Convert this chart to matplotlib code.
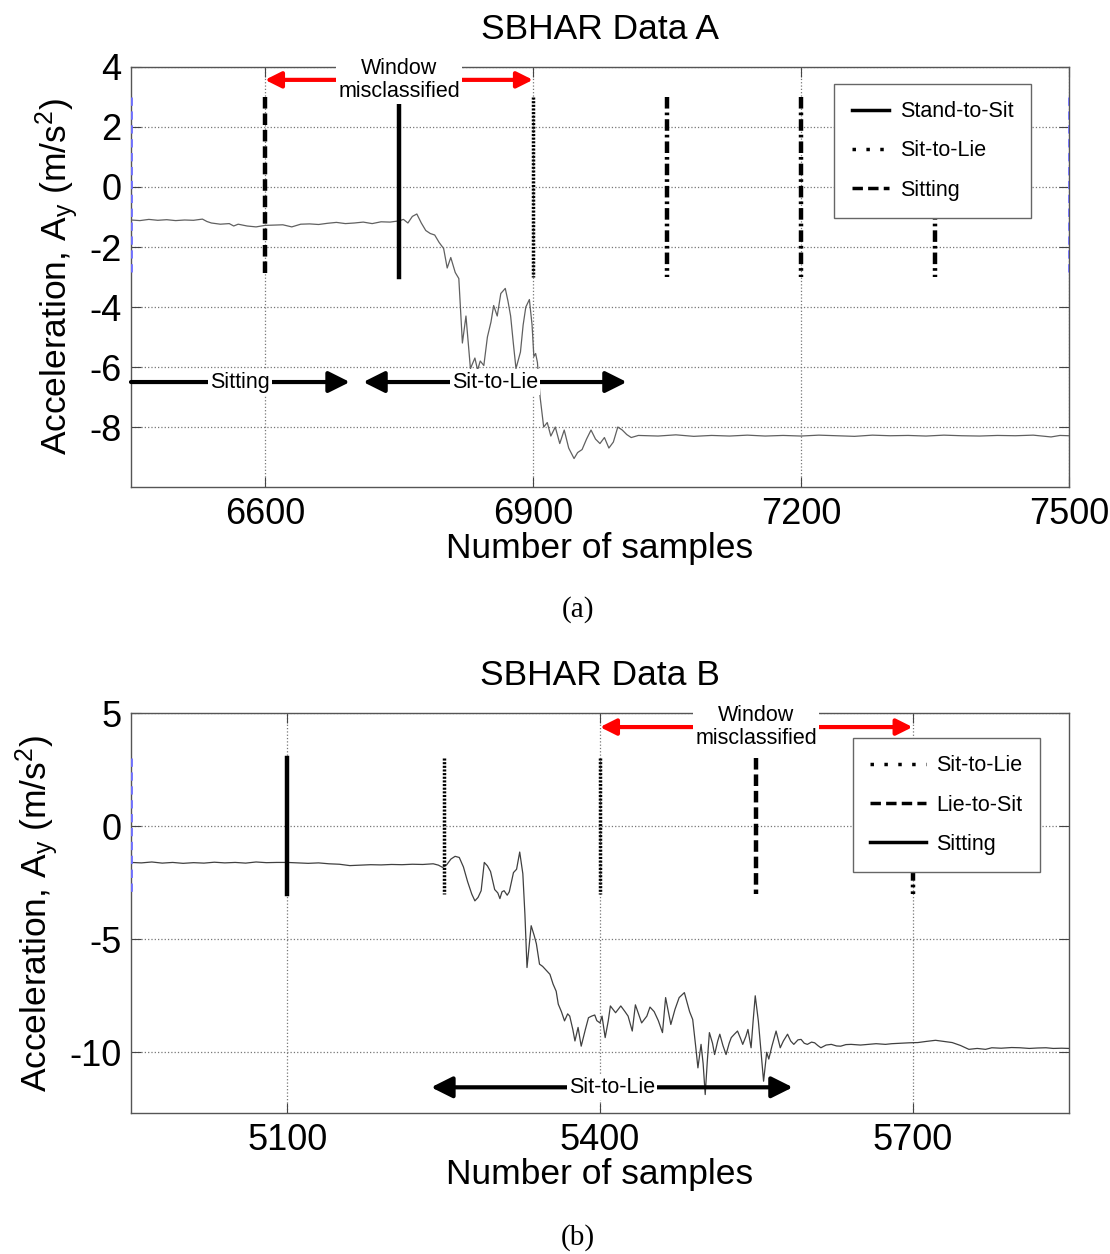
import numpy as np
import matplotlib.pyplot as plt
from matplotlib.lines import Line2D

plt.rcParams['font.family'] = ['Liberation Sans', 'DejaVu Sans']
plt.rcParams['mathtext.fontset'] = 'custom'
plt.rcParams['mathtext.rm'] = 'Liberation Sans'
plt.rcParams['mathtext.it'] = 'Liberation Sans'
plt.rcParams['axes.unicode_minus'] = False

# ---- data A ----
a_x = [6450, 6460, 6470, 6480, 6490, 6500, 6510, 6520, 6530, 6535, 6540, 6550, 6560, 6565,
       6570, 6580, 6590, 6600, 6610, 6620, 6630, 6640, 6650, 6660, 6670, 6680, 6690, 6700,
       6710, 6720, 6730, 6740, 6750, 6755, 6760, 6765, 6770, 6775, 6780, 6785, 6790, 6795,
       6800, 6804, 6808, 6813, 6817, 6821, 6825, 6830, 6835, 6838, 6841, 6845, 6849, 6853,
       6856, 6860, 6864, 6869, 6872, 6875, 6878, 6881, 6886, 6889, 6892, 6896, 6899, 6901,
       6903, 6905, 6908, 6912, 6916, 6920, 6925, 6930, 6935, 6940, 6946, 6950, 6955, 6960,
       6965, 6970, 6975, 6980, 6985, 6990, 6995, 7000, 7005, 7010, 7018, 7040, 7060, 7080,
       7100, 7120, 7140, 7160, 7180, 7200, 7220, 7240, 7260, 7280, 7300, 7320, 7340, 7360,
       7380, 7400, 7420, 7440, 7460, 7480, 7490, 7500]
a_y = [-1.10, -1.12, -1.08, -1.11, -1.09, -1.12, -1.10, -1.11, -1.07, -1.15, -1.20, -1.24,
       -1.22, -1.30, -1.24, -1.30, -1.33, -1.28, -1.27, -1.26, -1.33, -1.24, -1.23, -1.25,
       -1.21, -1.18, -1.22, -1.20, -1.17, -1.22, -1.16, -1.17, -1.13, -1.08, -1.20, -0.98,
       -0.90, -1.20, -1.45, -1.55, -1.60, -1.85, -2.05, -2.70, -2.35, -2.85, -3.05, -5.20,
       -4.30, -6.05, -5.70, -6.10, -5.80, -5.95, -5.00, -4.50, -3.95, -4.30, -3.55, -3.38,
       -3.80, -4.30, -5.20, -6.05, -5.50, -4.60, -4.00, -3.75, -4.60, -5.65, -5.55, -5.85,
       -7.00, -8.00, -7.85, -8.30, -8.00, -8.55, -8.10, -8.70, -9.05, -8.85, -8.75, -8.40,
       -8.10, -8.40, -8.55, -8.35, -8.70, -8.50, -8.00, -8.10, -8.25, -8.35, -8.28, -8.30,
       -8.26, -8.31, -8.28, -8.30, -8.27, -8.30, -8.28, -8.30, -8.27, -8.29, -8.31, -8.27,
       -8.29, -8.28, -8.30, -8.27, -8.29, -8.30, -8.28, -8.29, -8.27, -8.33, -8.28, -8.29]

# ---- data B ----
b_x = [4950, 4960, 4970, 4980, 4990, 5000, 5010, 5020, 5030, 5040, 5050, 5060, 5070, 5080,
       5090, 5100, 5110, 5120, 5130, 5140, 5150, 5160, 5170, 5180, 5190, 5200, 5210, 5220,
       5230, 5240, 5245, 5249, 5253, 5257, 5261, 5265, 5269, 5273, 5277, 5280, 5283, 5286,
       5289, 5292, 5295, 5299, 5302, 5304, 5306, 5308, 5311, 5313, 5317, 5320, 5323, 5326,
       5328, 5330, 5332, 5334, 5337, 5339, 5342, 5345, 5349, 5352, 5355, 5358, 5360, 5363,
       5366, 5369, 5371, 5374, 5376, 5379, 5382, 5386, 5389, 5392, 5395, 5397, 5400, 5402,
       5405, 5408, 5410, 5415, 5420, 5424, 5427, 5431, 5434, 5437, 5440, 5445, 5448, 5452,
       5456, 5460, 5463, 5468, 5472, 5476, 5481, 5486, 5489, 5492, 5494, 5497, 5499, 5501,
       5503, 5505, 5508, 5510, 5513, 5515, 5518, 5521, 5524, 5526, 5529, 5532, 5535, 5537,
       5540, 5542, 5545, 5547, 5549, 5552, 5555, 5557, 5560, 5562, 5565, 5569, 5573, 5576,
       5580, 5583, 5586, 5590, 5593, 5596, 5599, 5603, 5606, 5609, 5612, 5617, 5622, 5627,
       5631, 5636, 5641, 5650, 5657, 5665, 5674, 5680, 5688, 5697, 5705, 5713, 5722, 5730,
       5738, 5746, 5754, 5762, 5770, 5776, 5785, 5795, 5803, 5812, 5820, 5828, 5835, 5843,
       5850]
b_y = [-1.60, -1.62, -1.58, -1.63, -1.60, -1.64, -1.61, -1.63, -1.59, -1.62, -1.60, -1.63,
       -1.58, -1.61, -1.60, -1.60, -1.62, -1.64, -1.62, -1.66, -1.68, -1.74, -1.72, -1.70,
       -1.71, -1.69, -1.70, -1.68, -1.69, -1.66, -1.72, -1.82, -1.70, -1.45, -1.33, -1.38,
       -1.80, -2.45, -3.00, -3.30, -3.15, -2.85, -1.60, -1.75, -2.00, -2.80, -2.95, -3.20,
       -2.90, -2.85, -3.05, -2.90, -2.05, -1.90, -1.14, -2.10, -3.90, -6.25, -5.30, -4.40,
       -4.85, -5.20, -6.10, -6.20, -6.40, -6.55, -6.98, -7.30, -7.87, -8.20, -8.61, -8.30,
       -8.40, -9.00, -9.50, -8.90, -9.73, -8.99, -8.47, -8.40, -8.35, -8.60, -8.70, -8.40,
       -9.35, -8.60, -7.95, -8.25, -7.95, -8.20, -8.40, -9.06, -7.90, -8.30, -8.70, -8.40,
       -8.00, -8.20, -8.60, -9.13, -7.58, -8.77, -8.10, -7.58, -7.36, -8.20, -8.55, -9.80,
       -10.69, -9.65, -10.50, -11.87, -10.40, -9.13, -9.60, -10.10, -9.50, -9.20, -9.70,
       -10.10, -9.60, -9.35, -9.20, -9.06, -9.40, -9.65, -9.30, -8.99, -9.80, -8.60, -7.50,
       -8.62, -10.25, -11.28, -10.00, -10.30, -9.73, -9.06, -9.80, -9.50, -9.20, -9.50,
       -9.65, -9.45, -9.43, -9.60, -9.65, -9.55, -9.58, -9.70, -9.80, -9.68, -9.65, -9.72,
       -9.73, -9.66, -9.65, -9.68, -9.65, -9.62, -9.65, -9.62, -9.60, -9.58, -9.57, -9.52,
       -9.47, -9.52, -9.57, -9.70, -9.87, -9.83, -9.87, -9.80, -9.82, -9.79, -9.80, -9.83,
       -9.81, -9.80, -9.83, -9.82, -9.83]

a_xticks = [6600, 6900, 7200, 7500]
a_yticks = [4, 2, 0, -2, -4, -6, -8]
b_xticks = [5100, 5400, 5700]
b_yticks = [5, 0, -5, -10]

a_legend = ['Stand-to-Sit', 'Sit-to-Lie', 'Sitting']
b_legend = ['Sit-to-Lie', 'Lie-to-Sit', 'Sitting']

DOT = (0, (0.6, 0.45))
DASH = (0, (2.6, 1.1))
DASHDOT = (0, (2.6, 0.9, 0.6, 0.9))
BLUE = (0, (3, 2))

fig = plt.figure(figsize=(11.1, 12.54), dpi=100)
ax1 = fig.add_axes([0.118, 0.6116, 0.845, 0.335])
ax2 = fig.add_axes([0.118, 0.1122, 0.845, 0.319])


def style_axes(ax, xticks, yticks, title):
    ax.set_xticks(xticks)
    ax.set_yticks(yticks)
    ax.grid(True, linestyle=':', color='#777777', lw=0.9)
    ax.set_axisbelow(True)
    ax.tick_params(direction='in', length=7, top=True, right=True, labelsize=26,
                   pad=7, color='#444444')
    for s in ax.spines.values():
        s.set_color('#555555')
        s.set_linewidth(1.0)
    ax.set_title(title, fontsize=25.5, pad=20)
    ax.set_xlabel('Number of samples', fontsize=25.5, labelpad=0)
    ax.set_ylabel(r'Acceleration, A$_\mathregular{y}$ (m/s$^\mathregular{2}$)',
                  fontsize=25.5, labelpad=6)


def span_arrow(ax, x0, x1, y, label, color, both=True, fs=15.5, ms=24):
    ax.annotate('', xy=(x1, y), xytext=(x0, y),
                arrowprops=dict(arrowstyle='<|-|>' if both else '-|>', color=color,
                                lw=3, mutation_scale=ms, shrinkA=0, shrinkB=0),
                zorder=4, annotation_clip=False)
    ax.text((x0 + x1) / 2, y, label, ha='center', va='center', fontsize=fs,
            bbox=dict(facecolor='white', edgecolor='none', pad=1.5), zorder=6,
            clip_on=False, linespacing=1.15)


def make_legend(ax, handles, labels, anchor, hlen=1.75):
    leg = ax.legend(handles, labels, loc='upper right', bbox_to_anchor=anchor,
                    borderaxespad=0, fontsize=15.5, fancybox=False, framealpha=1,
                    edgecolor='#666666', handlelength=hlen, labelspacing=0.85,
                    borderpad=0.8, handletextpad=0.5)
    leg.get_frame().set_linewidth(1.0)
    leg.set_zorder(7)


# ---- plot A ----
ax1.plot(a_x, a_y, color='#606060', lw=0.9, zorder=3)
ax1.plot([6450, 6450], [3, -3], color='#6f6fff', lw=2, ls=BLUE, zorder=3)
ax1.plot([7500, 7500], [3, -3], color='#6f6fff', lw=2, ls=BLUE, zorder=3)
ax1.plot([6600, 6600], [3, -3], color='k', lw=3.2, ls=DASH, zorder=3)
ax1.plot([6750, 6750], [2.7, -3], color='k', lw=3.2, zorder=3)
ax1.plot([6900, 6900], [3, -3], color='k', lw=2.5, ls=DOT, zorder=3)
for xv in [7050, 7200, 7350]:
    ax1.plot([xv, xv], [3, -3], color='k', lw=3.2, ls=DASHDOT, zorder=3)
ax1.set_xlim(6450, 7500)
ax1.set_ylim(-10, 4)
style_axes(ax1, a_xticks, a_yticks, 'SBHAR Data A')
span_arrow(ax1, 6600, 6900, 3.57, 'Window\nmisclassified', 'red')
span_arrow(ax1, 6450, 6695, -6.5, 'Sitting', 'k', both=False, ms=32)
span_arrow(ax1, 6710, 7005, -6.5, 'Sit-to-Lie', 'k', ms=32)
h1 = [Line2D([], [], color='k', lw=2.5, ls='-'),
      Line2D([], [], color='k', lw=2.5, ls=(0, (1, 3))),
      Line2D([], [], color='k', lw=2.5, ls=(0, (3, 1.5)))]
make_legend(ax1, h1, a_legend, (0.9595, 0.9595))

# ---- plot B ----
ax2.plot(b_x, b_y, color='#404040', lw=0.9, zorder=3)
ax2.plot([4950, 4950], [3, -3], color='#6f6fff', lw=2, ls=BLUE, zorder=3)
ax2.plot([5100, 5100], [3, -3], color='k', lw=3.2, zorder=3)
ax2.plot([5250, 5250], [3, -3], color='k', lw=2.5, ls=DOT, zorder=3)
ax2.plot([5400, 5400], [3, -3], color='k', lw=2.5, ls=DOT, zorder=3)
ax2.plot([5550, 5550], [3, -3], color='k', lw=3.2, ls=DASH, zorder=3)
ax2.plot([5700, 5700], [3, -3], color='k', lw=3.2, ls=DASHDOT, zorder=3)
ax2.set_xlim(4950, 5850)
ax2.set_ylim(-12.7, 5)
style_axes(ax2, b_xticks, b_yticks, 'SBHAR Data B')
span_arrow(ax2, 5400, 5700, 4.39, 'Window\nmisclassified', 'red')
span_arrow(ax2, 5238, 5585, -11.55, 'Sit-to-Lie', 'k', ms=32)
h2 = [Line2D([], [], color='k', lw=2.5, ls=(0, (1, 3))),
      Line2D([], [], color='k', lw=2.5, ls=(0, (3, 1.5))),
      Line2D([], [], color='k', lw=2.5, ls='-')]
make_legend(ax2, h2, b_legend, (0.969, 0.938), hlen=2.6)

fig.text(0.521, 0.5136, '(a)', ha='center', va='center', fontsize=21,
         family=['Liberation Serif', 'DejaVu Serif'])
fig.text(0.521, 0.0128, '(b)', ha='center', va='center', fontsize=21,
         family=['Liberation Serif', 'DejaVu Serif'])

fig.savefig('out.png', dpi=100)
